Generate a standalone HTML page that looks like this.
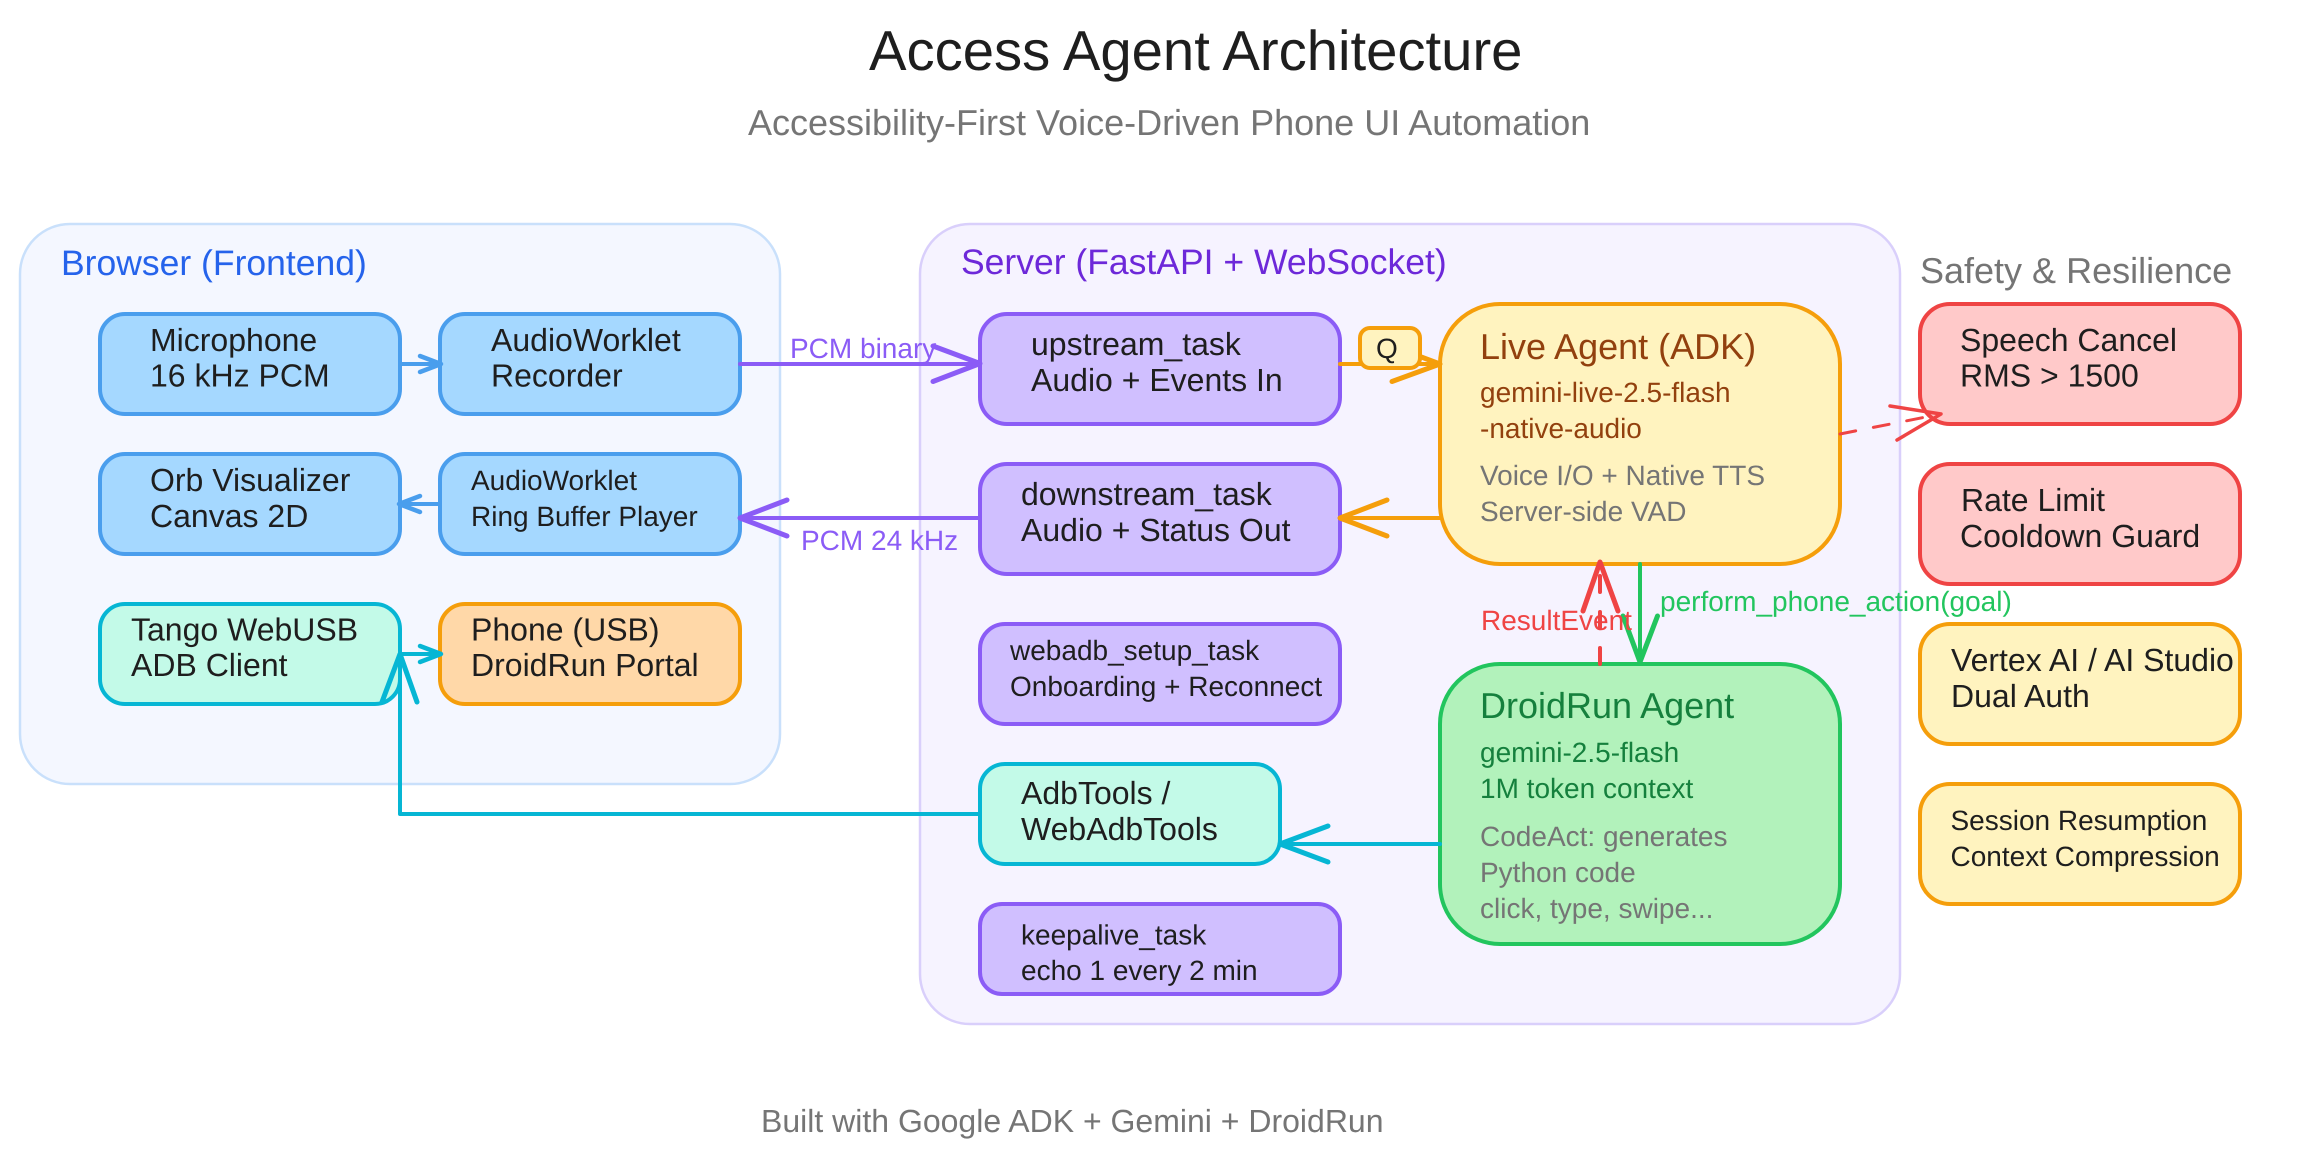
<!DOCTYPE html>
<html lang="en">
<head>
<meta charset="utf-8">
<title>Access Agent Architecture</title>
<style>
html,body{margin:0;padding:0;background:#fff;width:2300px;height:1164px;overflow:hidden}
svg{display:block}
text{font-family:"Liberation Sans",sans-serif;white-space:pre;text-rendering:geometricPrecision}
.a{fill:none;stroke-linecap:round;stroke-linejoin:round;stroke-width:4}
.b{fill:none;stroke-linecap:round;stroke-linejoin:round;stroke-width:5}
.t32{font-size:32px;fill:#1e1e1e}
.t28{font-size:28px;fill:#1e1e1e}
.g{fill:#757575}
</style>
</head>
<body>
<svg width="2300" height="1164" viewBox="0 0 2300 1164" xmlns="http://www.w3.org/2000/svg">
<rect width="2300" height="1164" fill="#ffffff"/>

<!-- groups -->
<rect x="20" y="224" width="760" height="560" rx="50" fill="#f4f7ff" stroke="#c9e0fb" stroke-width="2.5"/>
<rect x="920" y="224" width="980" height="800" rx="50" fill="#f6f3ff" stroke="#d9cffb" stroke-width="2.5"/>

<!-- nodes -->
<g stroke-width="4">
<rect x="100" y="314" width="300" height="100" rx="25" fill="#a5d8ff" stroke="#4a9eed"/>
<rect x="440" y="314" width="300" height="100" rx="25" fill="#a5d8ff" stroke="#4a9eed"/>
<rect x="100" y="454" width="300" height="100" rx="25" fill="#a5d8ff" stroke="#4a9eed"/>
<rect x="440" y="454" width="300" height="100" rx="25" fill="#a5d8ff" stroke="#4a9eed"/>
<rect x="100" y="604" width="300" height="100" rx="25" fill="#c3fae8" stroke="#06b6d4"/>
<rect x="440" y="604" width="300" height="100" rx="25" fill="#ffd8a8" stroke="#f59e0b"/>

<rect x="980" y="314" width="360" height="110" rx="27" fill="#d0bfff" stroke="#8b5cf6"/>
<rect x="980" y="464" width="360" height="110" rx="27" fill="#d0bfff" stroke="#8b5cf6"/>
<rect x="980" y="624" width="360" height="100" rx="25" fill="#d0bfff" stroke="#8b5cf6"/>
<rect x="980" y="764" width="300" height="100" rx="25" fill="#c3fae8" stroke="#06b6d4"/>
<rect x="980" y="904" width="360" height="90" rx="22" fill="#d0bfff" stroke="#8b5cf6"/>

<rect x="1440" y="304" width="400" height="260" rx="60" fill="#fff3bf" stroke="#f59e0b"/>
<rect x="1440" y="664" width="400" height="280" rx="60" fill="#b2f2bb" stroke="#22c55e"/>

<rect x="1920" y="304" width="320" height="120" rx="30" fill="#ffc9c9" stroke="#ef4444"/>
<rect x="1920" y="464" width="320" height="120" rx="30" fill="#ffc9c9" stroke="#ef4444"/>
<rect x="1920" y="624" width="320" height="120" rx="30" fill="#fff3bf" stroke="#f59e0b"/>
<rect x="1920" y="784" width="320" height="120" rx="30" fill="#fff3bf" stroke="#f59e0b"/>
</g>

<!-- connectors -->
<g stroke="#4a9eed">
<path class="a" d="M400 364H440"/><path class="b" style="stroke-width:4.5" d="M420 356L441 364L420 372"/>
<path class="a" d="M440 504H400"/><path class="b" style="stroke-width:4.5" d="M420 496L399 504L420 512"/>
</g>
<g stroke="#06b6d4">
<path class="a" d="M400 654H440"/><path class="b" style="stroke-width:4.5" d="M420 646L441 654L420 662"/>
<path class="a" d="M980 814H400V655"/><path class="b" d="M382 702L400 654L417 702"/>
<path class="a" d="M1440 844H1280"/><path class="b" d="M1328 826L1280 844L1328 862"/>
</g>
<g stroke="#8b5cf6">
<path class="a" d="M740 364H980"/><path class="b" d="M933 346L980 363.5L933 381.5"/>
<path class="a" d="M980 518H740"/><path class="b" d="M787 500L740 518L787 536"/>
</g>
<g stroke="#f59e0b">
<path class="a" d="M1340 364H1440"/><path class="b" d="M1392 346L1440 364L1392 381.5"/>
<path class="a" d="M1440 518H1340"/><path class="b" d="M1387 500L1340 518L1387 536"/>
</g>
<rect x="1360" y="328" width="60" height="40" rx="10" fill="#fff3bf" stroke="#f59e0b" stroke-width="4"/>

<g fill="none" stroke="#ef4444" stroke-linecap="round" stroke-linejoin="round">
<path d="M1840 434L1941 414" stroke-width="3" stroke-dasharray="16 18"/>
<path d="M1890 406L1941 414L1897 440" stroke-width="3.5"/>
<path d="M1600 664V564" stroke-width="4" stroke-dasharray="16 20"/>
<path d="M1583 611L1600 562L1618 611" stroke-width="5"/>
</g>
<g stroke="#22c55e">
<path class="a" d="M1640 564V662"/><path class="b" d="M1623 616L1640 662L1657.5 616"/>
</g>

<!-- titles -->
<text x="869" y="70" font-size="56.25" fill="#1e1e1e">Access Agent Architecture</text>
<text x="748" y="135" font-size="36" fill="#757575">Accessibility-First Voice-Driven Phone UI Automation</text>
<text x="61" y="275" font-size="35.5" fill="#2563eb">Browser (Frontend)</text>
<text x="961" y="274" font-size="35.5" fill="#6d28d9">Server (FastAPI + WebSocket)</text>
<text x="1920" y="283" font-size="36" fill="#757575">Safety &amp; Resilience</text>
<text x="761" y="1132" font-size="32" fill="#757575">Built with Google ADK + Gemini + DroidRun</text>

<!-- edge labels -->
<text x="790" y="358" font-size="28" fill="#8b5cf6">PCM binary</text>
<text x="801" y="550" font-size="28" fill="#8b5cf6">PCM 24 kHz</text>
<text x="1481" y="630" font-size="28" fill="#ef4444">ResultEvent</text>
<text x="1660" y="611" font-size="28" fill="#22c55e">perform_phone_action(goal)</text>

<!-- node text -->
<text class="t32" x="150" y="351">Microphone</text>
<text class="t32" x="150" y="386.5">16 kHz PCM</text>
<text class="t32" x="491" y="351">AudioWorklet</text>
<text class="t32" x="491" y="386.5">Recorder</text>
<text class="t32" x="150" y="491">Orb Visualizer</text>
<text class="t32" x="150" y="527">Canvas 2D</text>
<text class="t28" x="471" y="490">AudioWorklet</text>
<text class="t28" x="471" y="526">Ring Buffer Player</text>
<text class="t32" x="131" y="640.5">Tango WebUSB</text>
<text class="t32" x="131" y="676">ADB Client</text>
<text class="t32" x="471" y="640.5">Phone (USB)</text>
<text class="t32" x="471" y="676">DroidRun Portal</text>

<text class="t32" x="1031" y="355">upstream_task</text>
<text class="t32" x="1031" y="391">Audio + Events In</text>
<text class="t32" x="1021" y="505">downstream_task</text>
<text class="t32" x="1021" y="541">Audio + Status Out</text>
<text class="t28" x="1376" y="358">Q</text>
<text class="t28" x="1010" y="660">webadb_setup_task</text>
<text class="t28" x="1010" y="696">Onboarding + Reconnect</text>
<text class="t32" x="1021" y="804">AdbTools /</text>
<text class="t32" x="1021" y="840">WebAdbTools</text>
<text class="t28" x="1021" y="944.5">keepalive_task</text>
<text class="t28" x="1021" y="980">echo 1 every 2 min</text>

<text x="1480" y="359" font-size="36" fill="#92400e">Live Agent (ADK)</text>
<text x="1480" y="402" font-size="28" fill="#92400e">gemini-live-2.5-flash</text>
<text x="1480" y="438" font-size="28" fill="#92400e">-native-audio</text>
<text class="g" x="1480" y="485" font-size="28">Voice I/O + Native TTS</text>
<text class="g" x="1480" y="521" font-size="28">Server-side VAD</text>

<text x="1480" y="718" font-size="36" fill="#15803d">DroidRun Agent</text>
<text x="1480" y="762" font-size="28" fill="#15803d">gemini-2.5-flash</text>
<text x="1480" y="798" font-size="28" fill="#15803d">1M token context</text>
<text class="g" x="1480" y="846" font-size="28">CodeAct: generates</text>
<text class="g" x="1480" y="882" font-size="28">Python code</text>
<text class="g" x="1480" y="918" font-size="28">click, type, swipe...</text>

<text class="t32" x="1960" y="351">Speech Cancel</text>
<text class="t32" x="1960" y="386.5">RMS &gt; 1500</text>
<text class="t32" x="1961" y="511">Rate Limit</text>
<text class="t32" x="1960" y="547">Cooldown Guard</text>
<text class="t32" x="1951" y="671">Vertex AI / AI Studio</text>
<text class="t32" x="1951" y="707">Dual Auth</text>
<text class="t28" x="1950.5" y="830">Session Resumption</text>
<text class="t28" x="1950.5" y="866">Context Compression</text>
</svg>
</body>
</html>
